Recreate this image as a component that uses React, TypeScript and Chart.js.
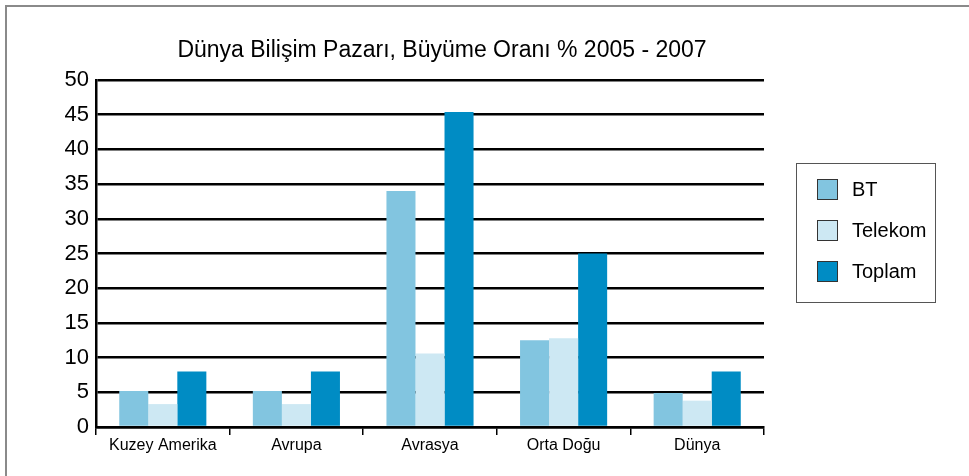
import React, { useEffect, useRef } from "react";
import { Chart, registerables } from "chart.js";

Chart.register(...registerables);

const categories = ["Kuzey Amerika", "Avrupa", "Avrasya", "Orta Doğu", "Dünya"];
const btValues = [5.2, 5.2, 34.0, 12.5, 4.9];
const telekomValues = [3.3, 3.3, 10.6, 12.8, 3.8];
const toplamValues = [8.0, 8.0, 45.4, 25.0, 8.0];
const seriesNames = ["BT", "Telekom", "Toplam"];
const seriesColors = ["#82c5e0", "#cde8f3", "#008cc4"];
const titleText = "Dünya Bilişim Pazarı, Büyüme Oranı % 2005 - 2007";

const FONT = '"Liberation Sans", Arial, Helvetica, sans-serif';

const overlayPlugin = {
  id: "overlay",
  afterDraw(chart: any) {
    const ctx = chart.ctx;
    ctx.save();
    // title
    ctx.fillStyle = "#000";
    ctx.font = `23px ${FONT}`;
    ctx.textAlign = "center";
    ctx.textBaseline = "middle";
    ctx.fillText(titleText, 442, 51);
    // legend box
    const bx = 796.5, by = 163.5, bw = 139, bh = 139;
    ctx.strokeStyle = "#555";
    ctx.lineWidth = 1;
    ctx.strokeRect(bx, by, bw, bh);
    const ds = chart.data.datasets;
    ds.forEach((d: any, i: number) => {
      const y = 179 + i * 41;
      ctx.fillStyle = d.backgroundColor;
      ctx.fillRect(817, y, 21, 21);
      ctx.strokeStyle = "#333";
      ctx.strokeRect(817.5, y + 0.5, 20, 20);
      ctx.fillStyle = "#000";
      ctx.font = `20px ${FONT}`;
      ctx.textAlign = "left";
      ctx.textBaseline = "middle";
      ctx.fillText(d.label, 852, y + 11);
    });
    ctx.restore();
  },
};

export default function App() {
  const ref = useRef<HTMLCanvasElement | null>(null);

  useEffect(() => {
    document.body.style.margin = "0";
    if (!ref.current) return;
    const values = [btValues, telekomValues, toplamValues];
    const chart = new Chart(ref.current, {
      type: "bar",
      data: {
        labels: categories,
        datasets: values.map((v, i) => ({
          label: seriesNames[i],
          data: v,
          backgroundColor: seriesColors[i],
          borderWidth: 0,
          categoryPercentage: 0.652,
          barPercentage: 1.0,
        })),
      },
      options: {
        responsive: false,
        animation: false,
        devicePixelRatio: 1,
        layout: { padding: { left: 0, right: 205, top: 80, bottom: 0 } },
        plugins: {
          legend: { display: false },
          title: { display: false },
          tooltip: { enabled: false },
        },
        scales: {
          x: {
            offset: true,
            grid: {
              offset: true,
              drawOnChartArea: false,
              drawTicks: true,
              tickLength: 8,
              color: "#000",
              lineWidth: 1.5,
            },
            border: { display: true, color: "#000", width: 2.5 },
            ticks: {
              color: "#000",
              font: { family: FONT, size: 16 },
              padding: 1,
              maxRotation: 0,
              autoSkip: false,
            },
            afterFit(scale: any) {
              scale.height = 49;
            },
          },
          y: {
            min: 0,
            max: 50,
            grid: {
              color: "#000",
              lineWidth: 2.5,
              drawTicks: false,
            },
            border: { display: true, color: "#000", width: 2.5 },
            ticks: {
              stepSize: 5,
              color: "#000",
              font: { family: FONT, size: 22 },
              padding: 7,
            },
            afterFit(scale: any) {
              scale.width = 96;
            },
          },
        },
      },
      plugins: [overlayPlugin],
    });
    return () => chart.destroy();
  }, []);

  return (
    <div style={{ position: "relative", width: 969, height: 476, background: "#fff", overflow: "hidden" }}>
      <canvas ref={ref} width={969} height={476} style={{ position: "absolute", left: 0, top: 0 }} />
      <div
        style={{
          position: "absolute",
          left: 5,
          top: 5,
          width: 980,
          height: 500,
          borderTop: "2px solid #8a8a8a",
          borderLeft: "2px solid #8a8a8a",
          pointerEvents: "none",
        }}
      />
    </div>
  );
}
